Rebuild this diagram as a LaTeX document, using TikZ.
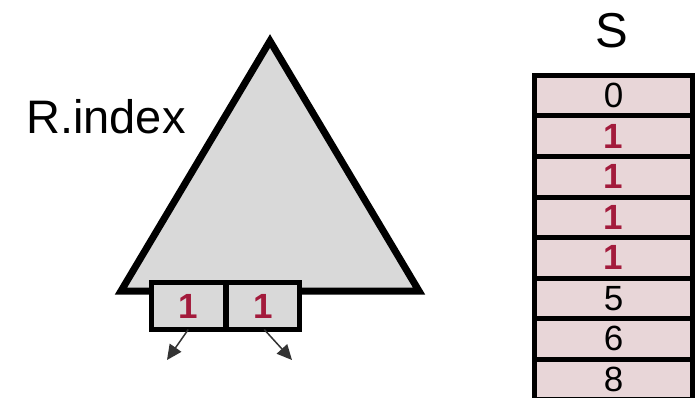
\documentclass[tikz,border=0pt]{standalone}
\usepackage{fontspec}
\setmainfont{Liberation Sans}
\usetikzlibrary{arrows.meta}
\definecolor{tgray}{HTML}{D9D9D9}
\definecolor{cellpink}{HTML}{E8D6D8}
\definecolor{numred}{HTML}{A31B3C}
\definecolor{arrgray}{HTML}{333333}
\tikzset{
  keybox/.style={draw=black, line width=5pt, fill=tgray, minimum width=73.5pt, minimum height=47pt, inner sep=0pt, outer sep=0pt},
  cellbox/.style={draw=black, line width=5pt, fill=cellpink, minimum width=158pt, minimum height=40.5pt, inner sep=0pt, outer sep=0pt, font=\fontsize{35}{35}\selectfont},
  redone/.style={text=numred, font=\fontsize{35}{35}\selectfont\bfseries},
  ptr/.style={draw=arrgray, line width=1.5pt, -{Triangle[length=15pt,width=14pt]}}
}
\begin{document}
\begin{tikzpicture}[x=1pt,y=-1pt]
\useasboundingbox (0,0) rectangle (695,398);
% tree
\coordinate (apex) at (270,41);
\coordinate (bl) at (121,291);
\coordinate (br) at (419,291);
\draw[line width=7pt, fill=tgray, line join=miter] (apex) -- (bl) -- (br) -- cycle;
\node[anchor=base west, font=\fontsize{47}{47}\selectfont, inner sep=0pt] (rindex) at (26,134) {R.index};
% leaf keys
\node[keybox] (k1) at (188.25,306) {};
\node[keybox] (k2) at (262.75,306) {};
\node[redone] (k1t) at (k1.center) {1};
\node[redone] (k2t) at (k2.center) {1};
\coordinate (p1) at (167,360);
\coordinate (p2) at (292,360);
\draw[ptr] (k1.south) -- (p1);
\draw[ptr] ([xshift=1.5pt]k2.south) -- (p2);
% S
\node[font=\fontsize{49}{49}\selectfont, inner sep=0pt] (S) at (612,31) {S};
\node[cellbox] (c0) at (613.5,95.75) {0};
\node[cellbox, redone] (c1) at (613.5,136.25) {1};
\node[cellbox, redone] (c2) at (613.5,176.75) {1};
\node[cellbox, redone] (c3) at (613.5,217.25) {1};
\node[cellbox, redone] (c4) at (613.5,257.75) {1};
\node[cellbox] (c5) at (613.5,298.25) {5};
\node[cellbox] (c6) at (613.5,338.75) {6};
\node[cellbox] (c7) at (613.5,379.25) {8};
\end{tikzpicture}
\end{document}
